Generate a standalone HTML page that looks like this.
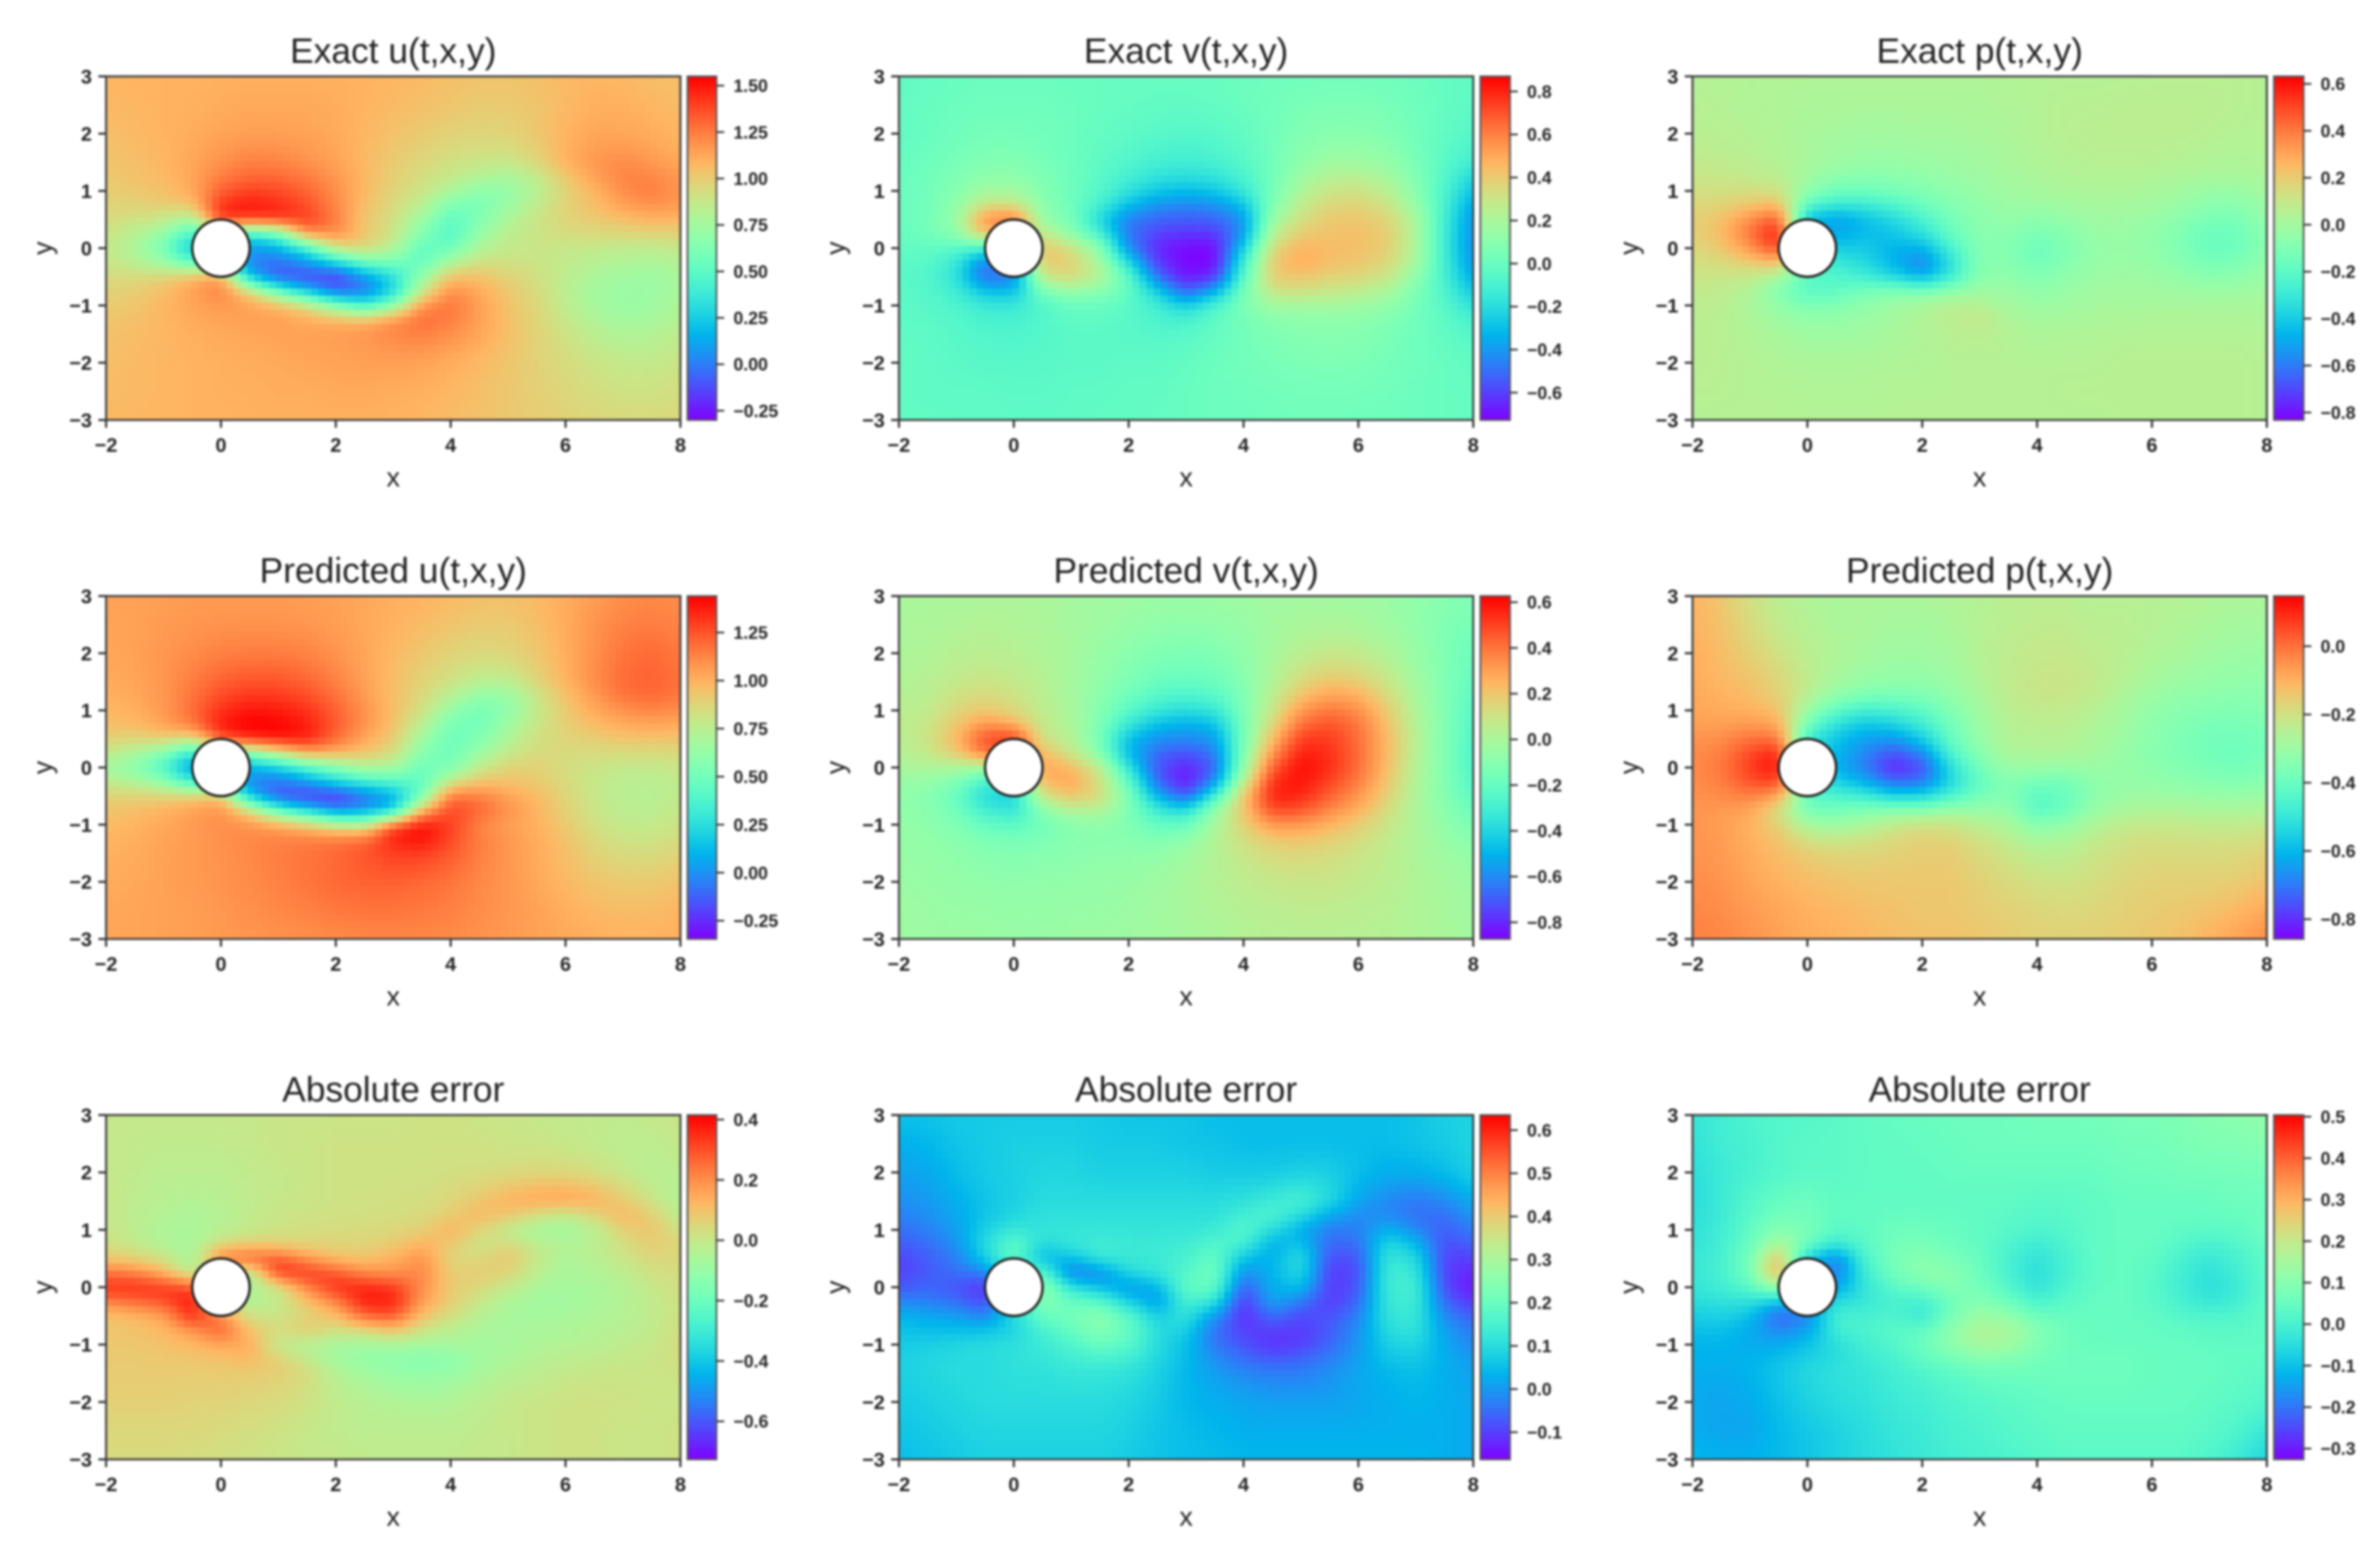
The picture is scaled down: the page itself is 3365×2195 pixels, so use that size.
<!DOCTYPE html>
<html lang="en">
<head>
<meta charset="utf-8">
<title>Cylinder wake: exact, predicted and absolute error fields</title>
<style>
html,body{margin:0;padding:0;background:#fff}
#figure{display:block;filter:blur(1.5px)}
text{font-family:"Liberation Sans",Arial,sans-serif;fill:#222}
</style>
</head>
<body>
<svg id="figure" xmlns="http://www.w3.org/2000/svg" width="3365" height="2195" viewBox="0 0 3365 2195"></svg>
<script>
const xGrid=[-2,-1.5,-1,-.5,0,.5,1,1.5,2,2.5,3,3.5,4,4.5,5,5.5,6,6.5,7,7.5,8];
const yGrid=[3,2.5,2,1.5,1.25,1,.75,.5,.25,0,-.25,-.5,-.75,-1,-1.25,-1.5,-2,-2.5,-3];
const xTicks=[-2,0,2,4,6,8];
const yTicks=[-3,-2,-1,0,1,2,3];

const uExactRange=[-.30,1.55];
const uExactTicks=[-.25,0,.25,.5,.75,1,1.25,1.5];
const uExactValues=[
[1.08,1.09,1.09,1.09,1.10,1.10,1.10,1.10,1.10,1.09,1.08,1.07,1.05,1.04,1.04,1.05,1.07,1.08,1.07,1.05,1.05],
[1.07,1.08,1.09,1.10,1.11,1.12,1.12,1.12,1.11,1.09,1.07,1.05,1.03,1.01,1.01,1.03,1.07,1.10,1.10,1.08,1.06],
[1.05,1.07,1.09,1.11,1.14,1.15,1.15,1.14,1.12,1.08,1.04,1.01,.98,.97,.98,1.02,1.09,1.13,1.13,1.11,1.08],
[1.03,1.05,1.08,1.13,1.19,1.24,1.23,1.19,1.14,1.07,1.01,.96,.92,.89,.88,.97,1.10,1.18,1.21,1.17,1.12],
[1.02,1.04,1.07,1.13,1.25,1.30,1.30,1.25,1.18,1.08,.99,.93,.88,.82,.78,.85,1.02,1.15,1.24,1.23,1.17],
[1.00,1.02,1.05,1.12,1.32,1.40,1.38,1.31,1.20,1.07,.97,.90,.80,.66,.68,.82,.97,1.08,1.21,1.25,1.18],
[.97,.98,1.00,1.05,1.45,1.50,1.45,1.37,1.22,1.05,.95,.84,.60,.60,.72,.86,.98,1.06,1.15,1.20,1.17],
[.95,.92,.88,.75,1.5,1.5,1.5,1.42,1.25,1.02,.92,.72,.50,.62,.80,.90,.97,1.01,1.05,1.09,1.08],
[.90,.82,.70,.40,.60,.30,.50,1.25,1.22,1.03,.90,.65,.45,.70,.85,.90,.94,.95,.96,.97,.98],
[.88,.78,.58,.15,.50,.05,.15,.35,.95,1.0,.82,.50,.55,.80,.87,.88,.88,.87,.85,.85,.88],
[.90,.83,.72,.50,.5,0,-.05,.10,.25,.55,.60,.50,.80,.92,.92,.90,.86,.82,.80,.78,.82],
[.95,.95,.98,1.10,1.2,.15,-.15,-.20,-.20,.05,.30,.72,1.05,1.05,.98,.92,.85,.78,.75,.73,.78],
[.98,1.0,1.05,1.15,1.25,1.0,.55,.20,-.10,-.05,.25,.85,1.22,1.12,1.02,.94,.84,.76,.72,.72,.78],
[1.0,1.03,1.08,1.13,1.17,1.15,1.10,.95,.65,.40,.65,1.20,1.28,1.15,1.04,.96,.85,.76,.72,.73,.80],
[1.03,1.05,1.08,1.12,1.14,1.15,1.15,1.12,1.10,1.10,1.22,1.30,1.25,1.15,1.05,.97,.88,.80,.76,.77,.83],
[1.04,1.06,1.08,1.10,1.12,1.13,1.14,1.15,1.16,1.18,1.22,1.24,1.20,1.13,1.05,.98,.91,.84,.80,.81,.86],
[1.05,1.07,1.08,1.09,1.10,1.11,1.12,1.13,1.14,1.15,1.15,1.14,1.11,1.07,1.03,.98,.94,.90,.87,.87,.90],
[1.06,1.07,1.08,1.09,1.10,1.10,1.11,1.11,1.12,1.12,1.11,1.10,1.08,1.05,1.02,.99,.96,.93,.91,.91,.93],
[1.07,1.08,1.08,1.09,1.09,1.10,1.10,1.10,1.10,1.10,1.09,1.08,1.06,1.04,1.02,1.0,.98,.96,.95,.95,.96]];

const vExactRange=[-.727,.87];
const vExactTicks=[-.6,-.4,-.2,0,.2,.4,.6,.8];
const vExactValues=[
[-.02,-.01,0,.01,.01,.01,0,0,0,0,0,0,.01,.02,.03,.03,.03,.02,.01,-.01,-.02],
[-.02,0,.01,.02,.02,.02,.01,0,-.01,-.02,-.02,-.01,.01,.03,.05,.06,.06,.05,.02,-.01,-.03],
[-.02,0,.02,.04,.04,.03,.01,-.01,-.03,-.05,-.06,-.05,-.02,.03,.08,.10,.10,.08,.03,-.02,-.06],
[-.01,.02,.05,.08,.08,.05,.01,-.03,-.07,-.11,-.12,-.10,-.05,.03,.12,.17,.17,.14,.05,-.04,-.12],
[0,.03,.07,.12,.12,.07,.02,-.04,-.11,-.17,-.19,-.17,-.09,.03,.16,.24,.25,.19,.08,-.06,-.22],
[0,.03,.09,.18,.18,.09,.02,-.06,-.17,-.27,-.30,-.27,-.14,.04,.22,.30,.32,.25,.10,-.08,-.30],
[0,.03,.12,.32,.30,.11,.02,-.10,-.30,-.42,-.45,-.43,-.30,.08,.27,.37,.38,.32,.14,-.10,-.38],
[0,.04,.15,.60,.75,.13,.05,-.25,-.48,-.52,-.54,-.52,-.42,.15,.33,.41,.42,.37,.22,-.12,-.42],
[-.01,.03,.12,.5,.3,.30,.10,-.10,-.48,-.6,-.62,-.62,-.42,.25,.40,.43,.44,.40,.22,-.13,-.44],
[-.02,-.02,-.05,-.15,0,.45,.35,.12,-.45,-.66,-.72,-.72,-.25,.35,.48,.45,.44,.40,.22,-.13,-.44],
[-.03,-.05,-.15,-.50,-.3,.42,.38,.20,-.20,-.62,-.72,-.72,-.12,.42,.50,.44,.42,.36,.20,-.12,-.42],
[-.04,-.07,-.18,-.55,-.5,.30,.38,.25,-.02,-.50,-.70,-.65,-.05,.40,.42,.38,.36,.30,.12,-.10,-.37],
[-.03,-.06,-.12,-.28,-.30,.05,.14,.10,-.01,-.25,-.55,-.35,.05,.32,.33,.30,.28,.22,.07,-.08,-.28],
[-.03,-.05,-.08,-.15,-.15,-.07,0,0,-.04,-.12,-.25,-.08,.06,.17,.18,.18,.17,.13,.04,-.05,-.18],
[-.03,-.04,-.06,-.09,-.10,-.06,-.03,-.03,-.05,-.09,-.1,-.03,.04,.10,.12,.12,.11,.08,.03,-.03,-.10],
[-.02,-.03,-.05,-.07,-.08,-.06,-.04,-.04,-.05,-.06,-.05,-.01,.03,.07,.09,.10,.09,.06,.02,-.02,-.06],
[-.02,-.03,-.04,-.05,-.05,-.05,-.04,-.04,-.03,-.03,-.01,.01,.03,.05,.06,.07,.06,.04,.02,0,-.02],
[-.02,-.03,-.03,-.03,-.04,-.04,-.03,-.03,-.02,-.02,0,.01,.02,.03,.04,.04,.04,.03,.01,0,-.01],
[-.02,-.02,-.03,-.03,-.03,-.03,-.03,-.02,-.02,-.01,0,.01,.01,.02,.03,.03,.02,.02,.01,0,-.01]];

const pExactRange=[-.832,.632];
const pExactTicks=[-.8,-.6,-.4,-.2,0,.2,.4,.6];
const pExactValues=[
[.05,.05,.04,.04,.04,.04,.04,.04,.04,.04,.04,.04,.05,.05,.05,.05,.06,.06,.06,.06,.05],
[.06,.05,.04,.04,.03,.03,.03,.03,.03,.03,.03,.04,.05,.06,.06,.07,.07,.07,.07,.06,.05],
[.07,.06,.05,.04,.02,.01,0,0,.01,.01,.02,.03,.05,.06,.07,.07,.07,.07,.06,.05,.05],
[.09,.08,.07,.05,.02,-.01,-.03,-.03,-.02,-.01,0,.02,.04,.05,.06,.06,.06,.05,.04,.04,.04],
[.11,.10,.09,.07,0,-.06,-.08,-.07,-.05,-.03,-.01,.01,.03,.04,.05,.05,.04,.03,.02,.02,.03],
[.13,.13,.14,.12,-.05,-.14,-.14,-.12,-.09,-.05,-.03,0,.01,.03,.03,.03,.02,0,-.03,-.03,.01],
[.17,.18,.22,.25,-.20,-.30,-.30,-.24,-.16,-.09,-.05,-.02,-.02,0,.01,.01,0,-.03,-.07,-.07,-.01],
[.18,.23,.36,.50,-.50,-.55,-.45,-.37,-.25,-.13,-.06,-.04,-.07,-.04,-.01,-.01,-.03,-.07,-.12,-.12,-.04],
[.18,.25,.42,.62,-.4,-.50,-.45,-.42,-.33,-.17,-.07,-.07,-.12,-.08,-.03,-.02,-.05,-.10,-.16,-.15,-.06],
[.16,.21,.34,.55,-.3,-.40,-.40,-.47,-.48,-.25,-.08,-.08,-.16,-.10,-.04,-.03,-.05,-.10,-.17,-.15,-.06],
[.13,.15,.20,.25,-.2,-.30,-.36,-.48,-.60,-.35,-.08,-.08,-.14,-.09,-.03,-.02,-.04,-.08,-.12,-.11,-.05],
[.11,.11,.09,.02,-.2,-.22,-.28,-.38,-.50,-.30,-.07,-.05,-.09,-.05,-.02,-.01,-.02,-.04,-.07,-.06,-.02],
[.09,.08,.04,-.10,-.22,-.2,-.12,-.08,-.10,-.05,-.01,-.02,-.05,-.03,0,0,0,-.01,-.02,-.01,0],
[.08,.07,.03,-.05,-.10,-.09,-.05,-.01,.03,.07,.06,.01,-.02,-.01,.01,.02,.02,.02,.02,.02,.02],
[.07,.06,.04,-.01,-.04,-.04,-.02,.01,.04,.08,.10,.04,.01,.02,.03,.03,.04,.04,.04,.04,.03],
[.07,.06,.04,.02,-.01,-.01,0,.02,.04,.06,.07,.05,.03,.04,.04,.05,.05,.05,.05,.05,.04],
[.07,.06,.05,.04,.03,.03,.03,.04,.04,.05,.05,.05,.05,.05,.05,.06,.06,.06,.06,.06,.05],
[.06,.06,.05,.05,.04,.04,.04,.05,.05,.05,.05,.05,.05,.06,.06,.06,.06,.06,.06,.06,.05],
[.05,.05,.05,.05,.05,.05,.05,.05,.05,.05,.05,.05,.05,.05,.05,.06,.06,.06,.06,.06,.05]];

const uPredRange=[-.345,1.44];
const uPredTicks=[-.25,0,.25,.5,.75,1,1.25];
const uPredValues=[
[1.05,1.05,1.06,1.07,1.07,1.07,1.07,1.06,1.05,1.03,1.01,1.00,.98,.96,.96,.98,1.02,1.06,1.10,1.12,1.10],
[1.04,1.05,1.07,1.08,1.09,1.09,1.09,1.08,1.06,1.03,1.0,.97,.94,.92,.92,.96,1.02,1.09,1.14,1.15,1.13],
[1.03,1.05,1.08,1.11,1.14,1.15,1.15,1.13,1.09,1.04,.98,.93,.89,.86,.88,.93,1.01,1.10,1.17,1.20,1.16],
[1.02,1.04,1.08,1.15,1.22,1.25,1.25,1.21,1.14,1.05,.96,.89,.82,.76,.76,.88,1.0,1.11,1.20,1.22,1.18],
[1.0,1.03,1.08,1.17,1.28,1.32,1.31,1.27,1.18,1.07,.96,.86,.75,.60,.62,.80,.95,1.07,1.17,1.20,1.16],
[.98,1.01,1.07,1.19,1.33,1.40,1.38,1.33,1.22,1.09,.97,.83,.62,.50,.60,.78,.92,1.03,1.10,1.13,1.10],
[.96,.98,1.05,1.18,1.40,1.45,1.44,1.38,1.24,1.10,.95,.75,.52,.50,.65,.80,.90,.97,1.02,1.04,1.02],
[.90,.88,.92,.85,1.3,1.42,1.44,1.4,1.2,1.03,.92,.65,.48,.55,.72,.84,.88,.91,.94,.95,.94],
[.80,.70,.55,.25,.5,.5,.80,1.05,1.02,.95,.85,.58,.48,.64,.78,.85,.85,.85,.85,.85,.86],
[.65,.55,.35,-.05,.2,.05,.15,.35,.55,.72,.70,.48,.52,.78,.90,.90,.84,.81,.78,.78,.80],
[.78,.72,.6,.3,.3,-.05,-.08,.05,.25,.35,.40,.42,.80,.95,.95,.92,.86,.79,.75,.74,.78],
[.90,.90,.9,.95,1.0,.10,-.22,-.30,-.32,-.12,.05,.50,1.20,1.15,1.05,.97,.88,.79,.75,.74,.78],
[.94,.96,1.0,1.05,1.1,.9,.45,.2,-.05,-.02,.1,1.0,1.30,1.22,1.10,1.0,.9,.80,.76,.75,.80],
[.97,1.0,1.03,1.07,1.1,1.1,1.05,.95,.8,.75,1.30,1.44,1.30,1.12,1.05,1.0,.92,.83,.78,.78,.82],
[.99,1.01,1.04,1.07,1.1,1.12,1.14,1.15,1.17,1.20,1.38,1.42,1.28,1.15,1.08,1.02,.95,.86,.81,.81,.85],
[1.0,1.02,1.05,1.07,1.09,1.12,1.15,1.17,1.2,1.25,1.3,1.30,1.24,1.14,1.08,1.02,.96,.89,.85,.85,.89],
[1.02,1.03,1.05,1.07,1.09,1.11,1.14,1.17,1.2,1.22,1.22,1.20,1.17,1.12,1.08,1.03,.98,.94,.92,.92,.95],
[1.03,1.04,1.05,1.06,1.08,1.1,1.12,1.14,1.16,1.17,1.17,1.16,1.14,1.11,1.08,1.05,1.01,.98,.97,.97,.99],
[1.04,1.04,1.05,1.06,1.07,1.08,1.09,1.1,1.11,1.12,1.12,1.12,1.11,1.09,1.07,1.05,1.03,1.01,1.0,1.0,1.01]];

const vPredRange=[-.873,.627];
const vPredTicks=[-.8,-.6,-.4,-.2,0,.2,.4,.6];
const vPredValues=[
[0,0,0,.01,.01,0,-.01,-.02,-.03,-.04,-.04,-.04,-.03,-.02,-.02,-.02,-.03,-.04,-.07,-.10,-.12],
[0,.01,.02,.03,.02,.01,-.01,-.03,-.05,-.07,-.08,-.07,-.05,-.02,0,.01,0,-.03,-.07,-.12,-.15],
[.01,.02,.04,.05,.04,.02,-.01,-.05,-.09,-.12,-.13,-.12,-.08,-.01,.05,.08,.07,.02,-.05,-.12,-.18],
[.02,.04,.08,.10,.08,.04,-.01,-.07,-.13,-.18,-.20,-.18,-.10,.02,.14,.21,.18,.09,-.02,-.12,-.2],
[.03,.05,.11,.14,.11,.05,-.01,-.09,-.17,-.24,-.27,-.24,-.12,.05,.22,.30,.27,.14,0,-.12,-.22],
[.04,.07,.15,.20,.14,.06,0,-.11,-.23,-.33,-.37,-.33,-.13,.09,.32,.40,.35,.19,.02,-.12,-.24],
[.05,.09,.2,.33,.25,.08,.01,-.13,-.33,-.48,-.52,-.48,-.15,.15,.42,.48,.40,.22,.03,-.12,-.25],
[.04,.1,.25,.5,.6,.09,.04,-.15,-.48,-.58,-.60,-.56,-.15,.23,.52,.52,.42,.24,.04,-.12,-.26],
[.03,.08,.2,.45,.4,.25,.08,-.12,-.5,-.68,-.72,-.64,-.12,.33,.58,.54,.42,.24,.04,-.12,-.27],
[0,.02,-.01,-.05,0,.3,.25,.08,-.35,-.72,-.82,-.7,-.08,.45,.62,.55,.42,.23,.03,-.12,-.27],
[-.05,-.07,-.12,-.3,-.3,.25,.3,.12,-.2,-.68,-.86,-.6,.05,.55,.6,.5,.38,.2,.02,-.12,-.25],
[-.07,-.1,-.2,-.4,-.45,.1,.22,.15,-.12,-.5,-.72,-.3,.22,.58,.56,.44,.33,.17,.01,-.11,-.22],
[-.07,-.09,-.16,-.3,-.35,-.1,.02,.02,-.12,-.32,-.38,-.05,.2,.5,.47,.36,.26,.13,.01,-.09,-.18],
[-.06,-.08,-.12,-.2,-.23,-.17,-.1,-.08,-.12,-.2,-.2,0,.17,.32,.32,.25,.18,.09,.01,-.07,-.14],
[-.05,-.07,-.09,-.13,-.15,-.13,-.1,-.09,-.1,-.12,-.08,.02,.12,.2,.21,.18,.13,.07,.01,-.05,-.1],
[-.05,-.06,-.08,-.1,-.11,-.1,-.09,-.08,-.08,-.07,-.03,.03,.09,.14,.15,.13,.1,.06,.01,-.03,-.07],
[-.04,-.05,-.06,-.07,-.08,-.07,-.07,-.06,-.05,-.03,0,.03,.06,.08,.09,.09,.07,.05,.02,-.01,-.04],
[-.03,-.04,-.05,-.05,-.06,-.06,-.05,-.05,-.04,-.02,0,.02,.04,.05,.06,.06,.05,.04,.02,0,-.03],
[-.03,-.04,-.04,-.04,-.05,-.05,-.04,-.04,-.03,-.02,0,.01,.03,.04,.04,.04,.04,.03,.02,0,-.02]];

const pPredRange=[-.858,.147];
const pPredTicks=[-.8,-.6,-.4,-.2,0];
const pPredValues=[
[-.1,-.14,-.2,-.24,-.26,-.27,-.27,-.27,-.27,-.26,-.25,-.24,-.24,-.24,-.25,-.25,-.25,-.25,-.26,-.27,-.27],
[-.1,-.13,-.18,-.23,-.25,-.27,-.27,-.28,-.28,-.27,-.25,-.24,-.23,-.23,-.24,-.24,-.25,-.26,-.27,-.28,-.28],
[-.09,-.12,-.16,-.2,-.24,-.26,-.28,-.29,-.29,-.28,-.25,-.23,-.22,-.22,-.23,-.24,-.26,-.27,-.29,-.3,-.3],
[-.09,-.11,-.13,-.17,-.23,-.28,-.31,-.32,-.32,-.3,-.26,-.23,-.21,-.21,-.22,-.25,-.28,-.3,-.31,-.32,-.32],
[-.08,-.1,-.12,-.16,-.24,-.32,-.36,-.37,-.36,-.32,-.27,-.23,-.21,-.21,-.23,-.27,-.3,-.32,-.33,-.34,-.33],
[-.08,-.09,-.1,-.13,-.3,-.42,-.48,-.46,-.42,-.35,-.29,-.24,-.23,-.23,-.25,-.28,-.32,-.34,-.35,-.35,-.34],
[-.07,-.07,-.06,-.08,-.38,-.52,-.58,-.55,-.48,-.38,-.3,-.25,-.24,-.24,-.26,-.29,-.33,-.35,-.37,-.37,-.36],
[-.05,-.04,0,0,-.5,-.58,-.64,-.66,-.56,-.4,-.31,-.25,-.25,-.25,-.27,-.3,-.33,-.36,-.38,-.38,-.37],
[-.04,-.02,.06,.12,-.5,-.6,-.68,-.75,-.68,-.45,-.34,-.27,-.26,-.26,-.28,-.31,-.34,-.36,-.38,-.39,-.37],
[-.04,-.01,.07,.147,-.5,-.62,-.7,-.84,-.78,-.52,-.37,-.3,-.3,-.31,-.3,-.31,-.33,-.35,-.37,-.38,-.36],
[-.04,-.02,.05,.08,-.45,-.55,-.62,-.72,-.7,-.55,-.42,-.35,-.38,-.38,-.33,-.31,-.32,-.33,-.34,-.35,-.33],
[-.05,-.04,-.02,-.08,-.42,-.45,-.48,-.55,-.55,-.46,-.37,-.34,-.43,-.4,-.33,-.3,-.29,-.3,-.31,-.31,-.3],
[-.05,-.06,-.08,-.2,-.38,-.38,-.35,-.33,-.33,-.3,-.31,-.32,-.44,-.4,-.31,-.27,-.26,-.26,-.27,-.27,-.26],
[-.05,-.07,-.1,-.16,-.28,-.3,-.27,-.22,-.19,-.2,-.24,-.27,-.34,-.31,-.26,-.23,-.22,-.22,-.23,-.23,-.22],
[-.05,-.06,-.1,-.13,-.2,-.22,-.2,-.18,-.16,-.17,-.2,-.24,-.28,-.27,-.23,-.2,-.19,-.2,-.2,-.2,-.18],
[-.05,-.06,-.09,-.12,-.15,-.17,-.17,-.16,-.15,-.15,-.18,-.21,-.24,-.24,-.21,-.19,-.18,-.18,-.18,-.18,-.16],
[-.04,-.05,-.08,-.1,-.12,-.13,-.14,-.14,-.14,-.14,-.16,-.18,-.2,-.2,-.19,-.17,-.16,-.16,-.16,-.15,-.13],
[-.03,-.04,-.06,-.08,-.1,-.11,-.12,-.13,-.14,-.14,-.15,-.16,-.17,-.18,-.17,-.16,-.15,-.14,-.13,-.11,-.08],
[-.02,-.03,-.05,-.07,-.09,-.1,-.11,-.12,-.13,-.13,-.14,-.15,-.16,-.16,-.16,-.15,-.14,-.13,-.1,-.07,-.04]];

const uErrorRange=[-.726,.415];
const uErrorTicks=[-.6,-.4,-.2,0,.2,.4];
const uErrorValues=[
[0,0,0,0,0,0,.01,.01,.01,.01,.01,.02,.02,.01,.01,0,-.01,-.01,-.01,0,.01],
[0,-.01,-.01,-.01,-.01,0,.01,.01,.02,.02,.02,.02,.02,.02,.01,.01,0,-.01,-.02,-.02,0],
[0,-.01,-.02,-.02,-.02,-.01,0,.01,.02,.02,.02,.02,.03,.03,.04,.05,.05,.03,0,-.03,-.02],
[.01,-.02,-.03,-.04,-.03,-.01,0,.01,.02,.02,.03,.03,.05,.09,.14,.17,.18,.15,.08,.01,-.05],
[.01,-.02,-.04,-.05,-.04,-.01,.01,.02,.02,.03,.03,.04,.08,.13,.1,.02,-.03,.05,.14,.08,-.03],
[.01,-.02,-.05,-.06,-.03,0,.02,.03,.04,.04,.05,.07,.14,.06,-.04,-.08,-.08,-.04,.06,.1,.02],
[.03,-.01,-.05,-.06,.02,.05,.05,.05,.06,.06,.08,.13,.09,0,.05,-.01,-.04,-.02,.03,.08,.05],
[.08,.06,.02,-.08,.3,.35,.30,.18,.1,.09,.14,.2,.04,.05,.1,0,-.05,-.03,.01,.05,.05],
[.25,.22,.12,-.05,0,-.1,.38,.36,.30,.20,.18,.22,.08,.08,.06,-.02,-.06,-.05,-.02,.02,.04],
[.37,.37,.36,.33,0,-.05,-.02,.22,.36,.38,.35,.2,.08,.05,0,-.06,-.07,-.06,-.04,0,.03],
[.22,.26,.3,.4,0,-.05,0,.10,.22,.38,.38,.18,.08,0,-.06,-.08,-.08,-.06,-.04,-.01,.02],
[.09,.12,.16,.38,.2,.02,0,.05,.10,.28,.30,.1,.03,-.03,-.06,-.07,-.06,-.05,-.04,-.01,.02],
[.09,.1,.12,.18,.3,.1,.05,.1,.03,.04,.1,.02,-.03,-.06,-.07,-.06,-.05,-.04,-.03,-.01,.03],
[.09,.09,.1,.12,.15,.15,-.03,-.06,-.07,-.08,-.07,-.07,-.06,-.07,-.06,-.05,-.04,-.03,-.01,0,.04],
[.08,.08,.09,.09,.1,.12,.08,0,-.08,-.12,-.13,-.15,-.14,-.08,-.06,-.03,-.02,-.01,0,.01,.03],
[.08,.08,.08,.08,.08,.08,.07,.04,-.03,-.07,-.1,-.11,-.1,-.06,-.03,-.02,0,.01,.01,.01,.02],
[.07,.07,.07,.06,.06,.05,.04,.02,-.01,-.03,-.04,-.05,-.04,-.02,0,.01,.02,.02,.02,.01,.01],
[.05,.05,.05,.05,.04,.03,.02,0,-.01,-.02,-.02,-.02,-.02,-.01,0,.01,.02,.02,.01,.01,.02],
[.04,.04,.04,.03,.03,.02,.01,0,0,-.01,-.01,-.01,-.01,0,0,.01,.02,.02,.01,.01,.02]];

const vErrorRange=[-.163,.635];
const vErrorTicks=[-.1,0,.1,.2,.3,.4,.5,.6];
const vErrorValues=[
[.06,.06,.07,.07,.07,.07,.07,.07,.06,.06,.06,.05,.05,.05,.05,.05,.05,.05,.06,.08,.08],
[.03,.04,.06,.07,.08,.08,.08,.07,.07,.07,.06,.06,.05,.05,.05,.05,.05,.05,.06,.07,.09],
[.01,.02,.05,.07,.08,.09,.09,.08,.08,.08,.08,.07,.07,.07,.08,.08,.05,.03,.03,.05,.08],
[-.01,0,.03,.06,.08,.1,.1,.1,.1,.1,.1,.1,.11,.13,.16,.1,.02,-.02,-.04,-.02,.03],
[-.03,-.01,.02,.06,.09,.11,.11,.11,.11,.11,.11,.11,.14,.17,.1,.02,-.02,-.02,-.05,-.05,0],
[-.05,-.03,.01,.08,.12,.12,.12,.12,.12,.12,.12,.13,.18,.1,.02,-.04,-.03,.04,-.02,-.07,-.03],
[-.07,-.05,-.01,.1,.2,.1,.13,.14,.13,.13,.14,.17,.15,.02,.06,-.06,-.05,.1,.05,-.09,-.06],
[-.1,-.07,-.03,.08,.2,.02,.05,.14,.13,.13,.15,.2,.05,.03,.12,-.09,-.08,.13,.1,-.1,-.1],
[-.1,-.07,-.05,-.03,.15,.2,-.06,-.04,.1,.13,.17,.22,-.02,.04,.1,-.11,-.09,.14,.13,-.1,-.13],
[-.08,-.06,-.08,-.13,.1,.28,.12,.05,-.02,.03,.2,.2,-.08,.03,.06,-.11,-.08,.14,.15,-.09,-.15],
[-.02,-.03,-.05,-.1,.1,.25,.2,.18,.08,-.01,.15,.12,-.12,.03,-.04,-.11,-.06,.13,.14,-.06,-.11],
[.04,.02,.01,-.03,.1,.2,.22,.26,.18,.08,.12,0,-.13,-.05,-.09,-.08,-.03,.12,.13,-.02,-.07],
[.06,.05,.05,.06,.08,.15,.2,.25,.2,.1,.08,-.05,-.1,-.1,-.11,-.07,-.01,.1,.12,.01,-.04],
[.07,.08,.09,.1,.11,.13,.16,.2,.18,.1,.05,-.04,-.08,-.12,-.1,-.06,0,.08,.09,.02,-.02],
[.08,.09,.1,.1,.11,.12,.14,.15,.14,.09,.05,-.01,-.05,-.07,-.06,-.03,.01,.06,.07,.03,0],
[.08,.09,.1,.1,.11,.11,.12,.12,.11,.08,.04,.01,-.02,-.03,-.03,-.01,.02,.04,.05,.03,.01],
[.07,.08,.09,.1,.1,.1,.1,.1,.09,.07,.04,.03,.02,.01,.01,.01,.02,.03,.04,.03,.02],
[.06,.07,.08,.09,.09,.09,.09,.09,.08,.06,.05,.04,.03,.03,.03,.03,.03,.03,.03,.03,.02],
[.05,.06,.07,.08,.08,.08,.08,.08,.07,.06,.05,.05,.04,.04,.04,.04,.04,.04,.04,.03,.02]];

const pErrorRange=[-.326,.504];
const pErrorTicks=[-.3,-.2,-.1,0,.1,.2,.3,.4,.5];
const pErrorValues=[
[-.03,-.01,.01,.02,.02,.03,.04,.05,.05,.06,.06,.06,.07,.07,.07,.08,.08,.09,.1,.11,.12],
[-.04,-.01,0,.02,.03,.03,.04,.04,.05,.05,.06,.06,.06,.06,.06,.07,.07,.08,.09,.09,.1],
[-.05,-.02,0,.02,.03,.03,.04,.04,.04,.05,.05,.05,.05,.05,.05,.06,.06,.07,.07,.07,.08],
[-.05,-.02,.02,.05,.06,.04,.04,.04,.04,.04,.04,.04,.03,.03,.04,.05,.05,.05,.05,.06,.06],
[-.05,-.02,.03,.07,.07,.04,.04,.05,.05,.05,.04,.03,.02,.03,.04,.05,.05,.05,.05,.05,.06],
[-.04,-.01,.04,.1,.08,.03,.04,.06,.06,.05,.04,.03,.01,.02,.04,.05,.05,.04,.03,.04,.06],
[-.04,-.01,.05,.17,.07,-.02,.03,.07,.08,.06,.04,.01,-.02,.01,.04,.05,.05,.02,0,.02,.05],
[-.03,0,.07,.3,-.1,-.2,.01,.08,.1,.08,.05,0,-.04,0,.04,.05,.04,0,-.03,0,.04],
[-.03,0,.07,.35,-.1,-.2,-.02,.07,.12,.11,.06,0,-.05,0,.04,.05,.03,-.01,-.04,-.01,.04],
[-.03,-.01,.03,.15,-.1,-.15,-.03,.03,.06,.1,.07,.02,-.04,.01,.04,.05,.03,-.01,-.05,-.02,.04],
[-.05,-.04,-.04,-.1,-.1,-.05,-.03,0,-.01,.06,.1,.06,0,.03,.05,.05,.03,0,-.03,-.01,.04],
[-.08,-.07,-.1,-.24,-.2,0,0,.01,-.03,.07,.14,.12,.06,.05,.05,.05,.04,.02,.01,.02,.04],
[-.1,-.1,-.13,-.18,-.14,-.01,.01,.03,.04,.12,.17,.16,.1,.06,.05,.05,.05,.04,.03,.03,.04],
[-.12,-.12,-.13,-.13,-.1,-.05,-.01,.02,.06,.11,.16,.15,.09,.06,.05,.05,.05,.05,.04,.04,.04],
[-.12,-.12,-.12,-.1,-.07,-.05,-.02,0,.04,.07,.1,.09,.07,.06,.06,.06,.05,.05,.05,.04,.04],
[-.13,-.13,-.12,-.09,-.06,-.04,-.03,-.01,.01,.03,.05,.06,.06,.06,.06,.06,.05,.05,.05,.04,.03],
[-.13,-.14,-.13,-.1,-.07,-.05,-.04,-.02,-.01,.01,.02,.03,.04,.05,.05,.05,.05,.05,.04,.03,.02],
[-.13,-.14,-.14,-.11,-.09,-.07,-.05,-.03,-.02,0,.01,.02,.03,.04,.04,.04,.04,.04,.03,.01,-.03],
[-.11,-.12,-.12,-.11,-.09,-.07,-.05,-.04,-.02,-.01,0,.01,.02,.03,.03,.03,.03,.03,.01,-.02,-.07]];

const SVGNS='http://www.w3.org/2000/svg';
const root=document.getElementById('figure');
function make(tag,attrs,parent,text){
  const e=document.createElementNS(SVGNS,tag);
  for(const k in attrs)e.setAttribute(k,attrs[k]);
  if(text!==undefined)e.textContent=text;
  parent.appendChild(e);
  return e;
}
function rainbow(t){
  t=Math.max(0,Math.min(1,t));
  const r=Math.abs(2*t-.5),g=Math.sin(Math.PI*t),b=Math.cos(Math.PI*t/2);
  return 'rgb('+Math.round(255*Math.min(1,r))+','+Math.round(255*g)+','+Math.round(255*b)+')';
}
function locate(axis,v){
  const asc=axis[0]<axis[axis.length-1];
  for(let i=0;i<axis.length-1;i++){
    const a=axis[i],b=axis[i+1];
    if(asc?v<=b:v>=b)return [i,(v-a)/(b-a)];
  }
  return [axis.length-2,1];
}
function sample(values,x,y){
  const [i,fx]=locate(xGrid,x),[j,fy]=locate(yGrid,y);
  const top=values[j][i]*(1-fx)+values[j][i+1]*fx;
  const bot=values[j+1][i]*(1-fx)+values[j+1][i+1]*fx;
  return top*(1-fy)+bot*fy;
}
function smooth(f,nx,ny){
  const out=[];
  for(let j=0;j<ny;j++){
    out.push([]);
    for(let i=0;i<nx;i++){
      let s=0,w=0;
      for(let dj=-1;dj<=1;dj++)for(let di=-1;di<=1;di++){
        const jj=Math.max(0,Math.min(ny-1,j+dj)),ii=Math.max(0,Math.min(nx-1,i+di));
        const k=(2-Math.abs(di))*(2-Math.abs(dj));
        s+=f[jj][ii]*k;w+=k;
      }
      out[j].push(s/w);
    }
  }
  return out;
}
function tickLabel(v,decimals){
  return v.toFixed(decimals).replace('-','\u2212');
}

function drawPanel(name,title,values,range,ticks,decimals,box,bar){
  const g=make('g',{},root);
  
  
  const W=box.x1-box.x0,H=box.y1-box.y0;
  const sx=d=>box.x0+(d+2)/10*W;
  const sy=d=>box.y0+(3-d)/6*H;
  const sc=v=>box.y1-(v-range[0])/(range[1]-range[0])*H;
  const norm=v=>(v-range[0])/(range[1]-range[0]);

  const heat=make('g',{'shape-rendering':'crispEdges'},g);
  
  
  const cell=10,nx=Math.ceil(W/cell),ny=Math.ceil(H/cell);
  let f=[];
  for(let j=0;j<ny;j++){
    f.push([]);
    for(let i=0;i<nx;i++){
      const dx=-2+10*(i+.5)*cell/W,dy=3-6*(j+.5)*cell/H;
      f[j].push(sample(values,Math.min(8,dx),Math.max(-3,dy)));
    }
  }
  f=smooth(smooth(f,nx,ny),nx,ny);
  for(let j=0;j<ny;j++)for(let i=0;i<nx;i++){
    const px=sx(-2+10*i*cell/W),py=sy(3-6*j*cell/H);
    const r=make('rect',{x:px,y:py,width:Math.min(cell+.5,box.x1-px),height:Math.min(cell+.5,box.y1-py),fill:rainbow(norm(f[j][i]))},heat);
    
    
  }

  const cyl=make('ellipse',{cx:sx(0),cy:sy(0),rx:sx(.5)-sx(0),ry:sy(0)-sy(.5),fill:'#fff',stroke:'#222','stroke-width':3.5},g);
  
  

  const frame=make('rect',{x:box.x0,y:box.y0,width:W,height:H,fill:'none',stroke:'#444','stroke-width':3},g);
  
  

  xTicks.forEach(t=>{
    const m=make('line',{x1:sx(t),x2:sx(t),y1:box.y1,y2:box.y1+11,stroke:'#333','stroke-width':3},g);
    
    
    const l=make('text',{x:sx(t),y:box.y1+45,'text-anchor':'middle','font-size':28,'font-weight':'bold'},g,tickLabel(t,0));
    
    
  });
  yTicks.forEach(t=>{
    const m=make('line',{x1:box.x0-11,x2:box.x0,y1:sy(t),y2:sy(t),stroke:'#333','stroke-width':3},g);
    
    
    const l=make('text',{x:box.x0-20,y:sy(t)+10,'text-anchor':'end','font-size':28,'font-weight':'bold'},g,tickLabel(t,0));
    
    
  });

  const tt=make('text',{x:(box.x0+box.x1)/2,y:box.y0-19,'text-anchor':'middle','font-size':50},g,title);
  
  
  const xl=make('text',{x:(box.x0+box.x1)/2,y:box.y1+94,'text-anchor':'middle','font-size':38},g,'x');
  
  
  const cy=(box.y0+box.y1)/2;
  const yl=make('text',{x:box.x0-77,y:cy,'text-anchor':'middle','font-size':38,transform:'rotate(-90 '+(box.x0-77)+' '+cy+')'},g,'y');
  
  

  const cb=make('g',{},g);
  
  
  const strip=make('g',{'shape-rendering':'crispEdges'},cb);
  
  
  const steps=120;
  for(let k=0;k<steps;k++){
    const v0=range[0]+(range[1]-range[0])*k/steps,v1=range[0]+(range[1]-range[0])*(k+1)/steps;
    const s=make('rect',{x:bar.x0,y:sc(v1),width:bar.x1-bar.x0,height:sc(v0)-sc(v1)+.6,fill:rainbow((k+.5)/steps)},strip);
    
    
  }
  const outline=make('rect',{x:bar.x0,y:box.y0,width:bar.x1-bar.x0,height:H,fill:'none',stroke:'#555','stroke-width':2.5},cb);
  
  
  ticks.forEach(t=>{
    const m=make('line',{x1:bar.x1,x2:bar.x1+11,y1:sc(t),y2:sc(t),stroke:'#333','stroke-width':2.5},cb);
    
    
    const l=make('text',{x:bar.x1+24,y:sc(t)+9,'font-size':25,'font-weight':'bold'},cb,tickLabel(t,decimals));
    
    
  });
}

const col1={x0:150,x1:962},col2={x0:1271,x1:2083},col3={x0:2393,x1:3205};
const row1={y0:108,y1:594},row2={y0:843,y1:1328},row3={y0:1577,y1:2064};
const bar1={x0:972,x1:1013},bar2={x0:2093,x1:2135},bar3={x0:3215,x1:3257};
const box=(c,r)=>({x0:c.x0,x1:c.x1,y0:r.y0,y1:r.y1});

drawPanel('exact-u','Exact u(t,x,y)',uExactValues,uExactRange,uExactTicks,2,box(col1,row1),bar1);
drawPanel('exact-v','Exact v(t,x,y)',vExactValues,vExactRange,vExactTicks,1,box(col2,row1),bar2);
drawPanel('exact-p','Exact p(t,x,y)',pExactValues,pExactRange,pExactTicks,1,box(col3,row1),bar3);
drawPanel('predicted-u','Predicted u(t,x,y)',uPredValues,uPredRange,uPredTicks,2,box(col1,row2),bar1);
drawPanel('predicted-v','Predicted v(t,x,y)',vPredValues,vPredRange,vPredTicks,1,box(col2,row2),bar2);
drawPanel('predicted-p','Predicted p(t,x,y)',pPredValues,pPredRange,pPredTicks,1,box(col3,row2),bar3);
drawPanel('error-u','Absolute error',uErrorValues,uErrorRange,uErrorTicks,1,box(col1,row3),bar1);
drawPanel('error-v','Absolute error',vErrorValues,vErrorRange,vErrorTicks,1,box(col2,row3),bar2);
drawPanel('error-p','Absolute error',pErrorValues,pErrorRange,pErrorTicks,1,box(col3,row3),bar3);
</script>
</body>
</html>
